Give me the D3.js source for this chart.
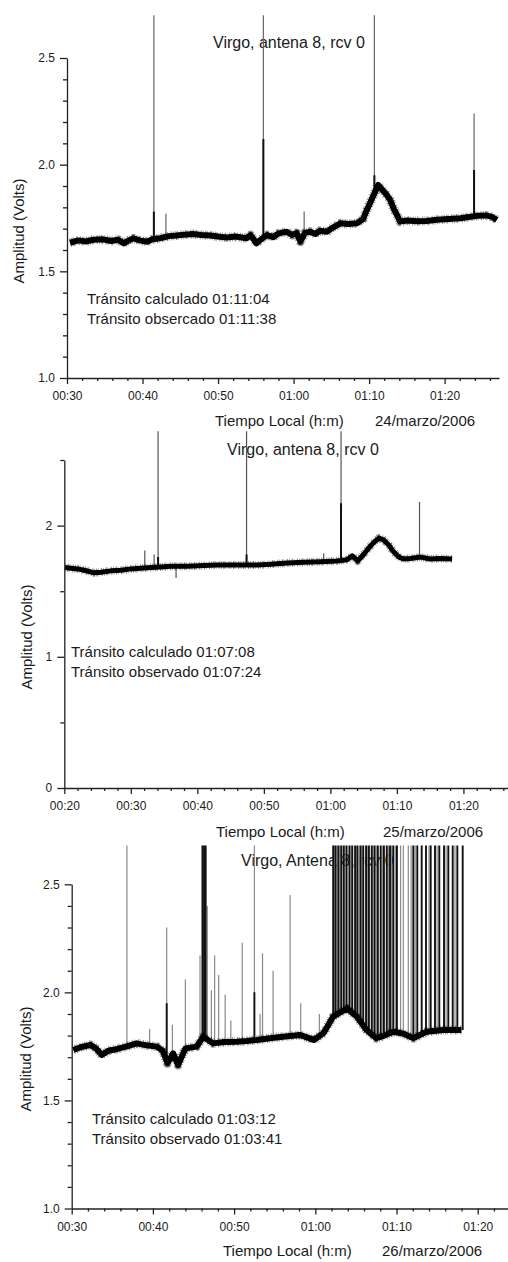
<!DOCTYPE html>
<html>
<head>
<meta charset="utf-8">
<script src="https://cdn.jsdelivr.net/npm/d3@7"></script>
<style>
  body { margin: 0; background: #fff; }
  text { font-family: "Liberation Sans", Arial, Helvetica, sans-serif; fill: #1a1a1a; }
</style>
</head>
<body>
<svg id="chart" width="508" height="1262"></svg>
<script>
// --- data (time in minutes after 00:00) ---
const xTitle = "Tiempo Local (h:m)";
const yTitle = "Amplitud (Volts)";

// 24/marzo/2006
const p1Title = "Virgo, antena 8, rcv 0";
const p1Notes = ["Tránsito calculado 01:11:04", "Tránsito obsercado 01:11:38"];
const p1Date = "24/marzo/2006";
const p1XTicks = ["00:30", "00:40", "00:50", "01:00", "01:10", "01:20"];
const p1YTicks = ["1.0", "1.5", "2.0", "2.5"];
const p1Time = [30.4, 31.5, 32.5, 33.5, 34.8, 35.8, 36.8, 37.5, 38.2, 38.8, 39.6, 40.6, 41.3, 42.3, 43.5, 44.5,
  45.5, 46.7, 47.8, 49.0, 50.2, 51.2, 52.3, 53.8, 54.3, 55.1, 55.7, 56.5, 57.3, 58.0, 59.1, 59.8, 60.4, 60.9,
  61.5, 62.2, 62.9, 63.5, 64.4, 65.2, 66.2, 67.3, 68.4, 69.2, 69.7, 70.5, 71.2, 71.8, 72.3, 72.8, 73.3, 73.7,
  74.1, 75.0, 76.3, 77.6, 79.0, 80.5, 82.1, 83.2, 84.3, 85.5, 86.3, 86.9];
const p1Volts = [1.634, 1.645, 1.640, 1.648, 1.650, 1.642, 1.648, 1.631, 1.645, 1.655, 1.645, 1.639, 1.650, 1.655,
  1.665, 1.668, 1.672, 1.675, 1.670, 1.668, 1.662, 1.659, 1.663, 1.655, 1.670, 1.631, 1.650, 1.670, 1.660, 1.678,
  1.686, 1.670, 1.680, 1.639, 1.680, 1.686, 1.675, 1.690, 1.686, 1.705, 1.725, 1.722, 1.725, 1.745, 1.788, 1.850,
  1.905, 1.880, 1.860, 1.834, 1.790, 1.764, 1.733, 1.738, 1.735, 1.736, 1.742, 1.745, 1.749, 1.755, 1.760, 1.762,
  1.755, 1.741];
const p1SpikeTime = [41.5, 43.1, 56.0, 61.4, 70.7, 83.9];
const p1SpikePeak = [2.70, 1.77, 2.70, 1.78, 2.70, 2.24];
const p1StrongTime = [41.5, 56.0, 70.7, 83.9];
const p1StrongPeak = [1.78, 2.12, 1.95, 1.975];

// 25/marzo/2006
const p2Title = "Virgo, antena 8, rcv 0";
const p2Notes = ["Tránsito calculado 01:07:08", "Tránsito observado 01:07:24"];
const p2Date = "25/marzo/2006";
const p2XTicks = ["00:20", "00:30", "00:40", "00:50", "01:00", "01:10", "01:20"];
const p2YTicks = ["0", "1", "2"];
const p2Time = [20.1, 21.0, 22.0, 23.0, 24.5, 25.5, 27.0, 28.5, 30.0, 31.5, 33.0, 34.5, 36.0, 38.5, 41.0, 43.0,
  45.0, 47.5, 49.0, 51.0, 53.5, 56.0, 58.6, 61.0, 62.5, 63.3, 64.1, 65.0, 65.6, 66.5, 67.3, 68.0, 68.8, 69.5,
  70.3, 71.0, 72.0, 73.6, 75.0, 76.5, 78.3];
const p2Volts = [1.68, 1.675, 1.67, 1.66, 1.64, 1.645, 1.655, 1.66, 1.67, 1.675, 1.68, 1.685, 1.69, 1.69, 1.695,
  1.70, 1.70, 1.70, 1.70, 1.705, 1.715, 1.72, 1.725, 1.73, 1.74, 1.77, 1.73, 1.78, 1.82, 1.87, 1.905, 1.89, 1.85,
  1.80, 1.76, 1.745, 1.75, 1.76, 1.745, 1.75, 1.745];
const p2SpikeTime = [32.1, 33.5, 34.1, 36.8, 47.4, 59.0, 61.6, 73.4];
const p2SpikePeak = [1.81, 1.78, 2.72, 1.60, 2.72, 1.79, 2.72, 2.18];
const p2StrongTime = [34.1, 47.4, 61.6];
const p2StrongPeak = [1.76, 1.78, 2.17];

// 26/marzo/2006
const p3Title = "Virgo, Antena 8, rcv 0";
const p3Notes = ["Tránsito calculado 01:03:12", "Tránsito observado 01:03:41"];
const p3Date = "26/marzo/2006";
const p3XTicks = ["00:30", "00:40", "00:50", "01:00", "01:10", "01:20"];
const p3YTicks = ["1.0", "1.5", "2.0", "2.5"];
const p3Time = [30.2, 31.0, 32.3, 33.0, 33.7, 34.5, 35.5, 36.8, 38.0, 39.2, 40.5, 41.2, 41.8, 42.5, 43.1, 44.0,
  45.4, 46.2, 47.4, 48.8, 50.3, 51.5, 52.8, 54.4, 56.0, 58.1, 59.8, 61.0, 62.2, 63.9, 65.1, 66.3, 67.5, 68.5,
  69.6, 70.8, 72.1, 73.7, 75.8, 78.0];
const p3Volts = [1.733, 1.745, 1.757, 1.74, 1.71, 1.73, 1.737, 1.75, 1.764, 1.755, 1.749, 1.73, 1.672, 1.718,
  1.664, 1.741, 1.749, 1.795, 1.764, 1.77, 1.772, 1.775, 1.78, 1.788, 1.795, 1.803, 1.78, 1.811, 1.888, 1.926,
  1.888, 1.826, 1.788, 1.80, 1.818, 1.81, 1.788, 1.818, 1.826, 1.826];
const p3SpikeTime = [36.8, 39.6, 41.7, 42.4, 44.0, 45.8, 46.7, 47.2, 47.6, 48.1, 48.9, 49.6,
  51.0, 52.5, 53.2, 53.5, 54.8, 56.9, 58.2, 60.5,
  62.35, 62.7, 63.05, 63.65, 64.4, 65.05, 65.7, 66.4, 67.1, 67.5, 68.25, 69.0, 69.4, 69.85,
  70.5, 70.84, 71.45, 71.8, 72.3, 74.0, 75.0, 76.1, 77.2];
const p3SpikePeak = [2.68, 1.83, 2.30, 1.85, 2.06, 2.17, 2.40, 2.01, 2.17, 2.08, 1.99, 1.87,
  2.23, 2.68, 1.90, 2.18, 2.10, 2.45, 1.95, 1.90,
  2.68, 2.68, 2.68, 2.68, 2.68, 2.68, 2.68, 2.68, 2.68, 2.68, 2.68, 2.68, 2.68, 2.68,
  2.68, 2.68, 2.68, 2.68, 2.68, 2.68, 2.68, 2.68, 2.68];
const p3StrongTime = [41.7, 46.1, 46.3, 46.5, 52.5,
  62.2, 62.5, 62.85, 63.2, 63.5, 63.85, 64.2, 64.55, 64.9, 65.2, 65.55, 65.9, 66.25, 66.6, 66.95, 67.3, 67.7,
  68.05, 68.45, 68.8, 69.2, 69.6, 70.05,
  72.07, 72.56, 73.10, 73.63, 74.21, 74.74, 75.27, 75.85, 76.38, 76.92, 77.49, 78.15];
const p3StrongPeak = [1.95, 2.68, 2.68, 2.68, 2.00,
  2.68, 2.68, 2.68, 2.68, 2.68, 2.68, 2.68, 2.68, 2.68, 2.68, 2.68, 2.68, 2.68, 2.68, 2.68, 2.68, 2.68,
  2.68, 2.68, 2.68, 2.68, 2.68, 2.68,
  2.68, 2.68, 2.68, 2.68, 2.68, 2.68, 2.68, 2.68, 2.68, 2.68, 2.68, 2.68];

const Recordings = {
    svg: d3.select("#chart"),

    panels: [
        {
            id: "p1", title: p1Title, notes: p1Notes, date: p1Date, xTicks: p1XTicks, yTicks: p1YTicks,
            time: p1Time, volts: p1Volts, spikeTime: p1SpikeTime, spikePeak: p1SpikePeak,
            strongTime: p1StrongTime, strongPeak: p1StrongPeak,
            xDomain: [30, 87.2], yDomain: [1.0, 2.5], yMinor: 0.1,
            left: 67, right: 499, top: 58, bottom: 378, clipTop: 14,
            titlePos: [213, 48], notePos: [87, 304], xTitlePos: [215, 426], datePos: [375, 426], yTitlePos: [24, 231],
            band: 6, spikeColor: "#666", strongWidth: 2
        },
        {
            id: "p2", title: p2Title, notes: p2Notes, date: p2Date, xTicks: p2XTicks, yTicks: p2YTicks,
            time: p2Time, volts: p2Volts, spikeTime: p2SpikeTime, spikePeak: p2SpikePeak,
            strongTime: p2StrongTime, strongPeak: p2StrongPeak,
            xDomain: [20, 86.7], yDomain: [0, 2.5], yMinor: 0.5,
            left: 64.3, right: 508, top: 460, bottom: 788, clipTop: 431,
            titlePos: [227, 455], notePos: [71, 657], xTitlePos: [216, 837], datePos: [383, 837], yTitlePos: [32, 637],
            band: 5, spikeColor: "#555", strongWidth: 2
        },
        {
            id: "p3", title: p3Title, notes: p3Notes, date: p3Date, xTicks: p3XTicks, yTicks: p3YTicks,
            time: p3Time, volts: p3Volts, spikeTime: p3SpikeTime, spikePeak: p3SpikePeak,
            strongTime: p3StrongTime, strongPeak: p3StrongPeak,
            xDomain: [30, 83.73], yDomain: [1.0, 2.5], yMinor: 0.1,
            left: 71.7, right: 508, top: 884.3, bottom: 1208.5, clipTop: 845,
            titlePos: [241, 866], notePos: [92, 1124], xTitlePos: [223, 1256], datePos: [382, 1256], yTitlePos: [31, 1059],
            band: 6, spikeColor: "#8a8a8a", strongWidth: 1.9
        }
    ],

    init() {
        this.panels.forEach(p => this.drawPanel(p));
    },

    toMinutes(label) {
        const [h, m] = label.split(":").map(Number);
        return h * 60 + m;
    },

    // trace value under a spike, so the spike starts on the band
    baseAt(p, t) {
        const i = Math.max(1, Math.min(p.time.length - 1, d3.bisectLeft(p.time, t)));
        const k = (t - p.time[i - 1]) / (p.time[i] - p.time[i - 1]);
        return d3.interpolateNumber(p.volts[i - 1], p.volts[i])(Math.max(0, Math.min(1, k)));
    },

    drawSpikes(plot, x, y, rows, color, width) {
        plot.append("g").selectAll("line").data(rows).enter().append("line")
            .attr("x1", d => x(d.t)).attr("x2", d => x(d.t))
            .attr("y1", d => y(d.b)).attr("y2", d => y(d.v))
            .attr("stroke", color).attr("stroke-width", width);
    },

    drawPanel(p) {
        const x = d3.scaleLinear().domain(p.xDomain).range([p.left, p.right]);
        const y = d3.scaleLinear().domain(p.yDomain).range([p.bottom, p.top]);
        const g = this.svg.append("g").attr("class", p.id);

        // texts first, the recording runs over them
        g.append("text").attr("x", p.titlePos[0]).attr("y", p.titlePos[1])
            .attr("font-size", 16).text(p.title);
        g.selectAll("text.note").data(p.notes).enter().append("text")
            .attr("class", "note")
            .attr("x", p.notePos[0]).attr("y", (d, i) => p.notePos[1] + i * 20)
            .attr("font-size", 15).text(d => d);
        g.append("text").attr("x", p.xTitlePos[0]).attr("y", p.xTitlePos[1])
            .attr("font-size", 15).text(xTitle);
        g.append("text").attr("x", p.datePos[0]).attr("y", p.datePos[1])
            .attr("font-size", 15).text(p.date);
        g.append("text")
            .attr("transform", `translate(${p.yTitlePos[0]},${p.yTitlePos[1]}) rotate(-90)`)
            .attr("text-anchor", "middle").attr("font-size", 15).text(yTitle);

        g.append("clipPath").attr("id", `clip-${p.id}`)
            .append("rect")
            .attr("x", p.left).attr("y", p.clipTop)
            .attr("width", p.right - p.left).attr("height", p.bottom - p.clipTop);
        const plot = g.append("g").attr("clip-path", `url(#clip-${p.id})`);

        const spikes = p.spikeTime.map((t, i) => ({ t, v: p.spikePeak[i], b: this.baseAt(p, t) }));
        const strong = p.strongTime.map((t, i) => ({ t, v: p.strongPeak[i], b: this.baseAt(p, t) }));
        this.drawSpikes(plot, x, y, spikes, p.spikeColor, 1.2);
        this.drawSpikes(plot, x, y, strong, "#111", p.strongWidth);

        // the noisy band: solid core plus a broken, wider stroke for the ragged edge
        const pts = p.time.map((t, i) => [t, p.volts[i]]);
        const line = d3.line().x(d => x(d[0])).y(d => y(d[1]));
        plot.append("path").datum(pts).attr("d", line)
            .attr("fill", "none").attr("stroke", "#000").attr("stroke-opacity", 0.45)
            .attr("stroke-width", p.band + 3).attr("stroke-dasharray", "0.8,1.6,1.3,0.9,0.6,2.3,1.1,1.2")
            .attr("stroke-linejoin", "round");
        plot.append("path").datum(pts).attr("d", line)
            .attr("fill", "none").attr("stroke", "#000")
            .attr("stroke-width", p.band).attr("stroke-linejoin", "round");

        // axes
        const xMajor = p.xTicks.map(l => this.toMinutes(l));
        const xMinor = d3.range(p.xDomain[0], p.xDomain[1], 2).filter(v => v % 10 !== 0);
        const yMajor = p.yTicks.map(Number);
        const yMinor = d3.range(p.yDomain[0], p.yDomain[1] + 1e-9, p.yMinor)
            .filter(v => !yMajor.some(m => Math.abs(m - v) < 1e-6));

        const styleAxis = sel => {
            sel.selectAll("path, line").attr("stroke", "#222").attr("stroke-width", 1.3);
            sel.selectAll("text").attr("font-size", 12).attr("fill", "#1a1a1a")
                .attr("font-family", "'Liberation Sans', Arial, sans-serif");
        };

        g.append("g").attr("transform", `translate(0,${p.bottom})`)
            .call(d3.axisBottom(x).tickValues(xMinor).tickFormat("").tickSize(3).tickSizeOuter(0))
            .call(s => s.select(".domain").remove()).call(styleAxis);
        g.append("g").attr("transform", `translate(0,${p.bottom})`)
            .call(d3.axisBottom(x).tickValues(xMajor).tickFormat((d, i) => p.xTicks[i])
                .tickSize(6).tickSizeOuter(0).tickPadding(7.5))
            .call(styleAxis);

        g.append("g").attr("transform", `translate(${p.left},0)`)
            .call(d3.axisLeft(y).tickValues(yMinor).tickFormat("").tickSize(4).tickSizeOuter(0))
            .call(s => s.select(".domain").remove()).call(styleAxis);
        g.append("g").attr("transform", `translate(${p.left},0)`)
            .call(d3.axisLeft(y).tickValues(yMajor).tickFormat((d, i) => p.yTicks[i])
                .tickSize(7).tickSizeOuter(0).tickPadding(5))
            .call(styleAxis);
    }
};

Recordings.init();
</script>
</body>
</html>
